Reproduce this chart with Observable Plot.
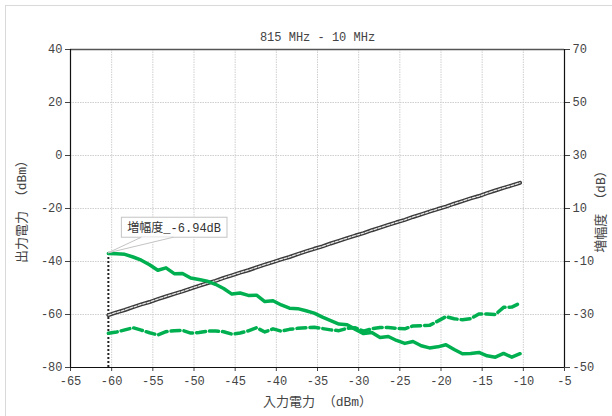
<!DOCTYPE html>
<html>
<head>
<meta charset="utf-8">
<script src="https://cdn.jsdelivr.net/npm/d3@7"></script>
<script src="https://cdn.jsdelivr.net/npm/@observablehq/plot@0.6"></script>
<style>
  html, body { margin: 0; padding: 0; background: #fff; }
  #wrap { position: relative; width: 612px; height: 416px; overflow: hidden; }
  #border { position: absolute; left: 5px; top: 5px; width: 640px; height: 440px; border-left: 1px solid #d9d9d9; border-top: 1px solid #d9d9d9; pointer-events: none; }
</style>
</head>
<body>
<div id="wrap"><div id="border"></div></div>
<script>
// ---- data ----
const titleText = "815 MHz - 10 MHz";
const xLabel = "入力電力 （dBm）";
const yLeftLabel = "出力電力 （dBm）";
const yRightLabel = "増幅度 （dB）";
const annotationText = "増幅度_-6.94dB";

const inputDbm = [-60.4,-59.4,-58.4,-57.4,-56.4,-55.4,-54.4,-53.4,-52.4,-51.4,
  -50.4,-49.4,-48.4,-47.4,-46.4,-45.4,-44.4,-43.4,-42.4,-41.4,
  -40.4,-39.4,-38.4,-37.4,-36.4,-35.4,-34.4,-33.4,-32.4,-31.4,
  -30.4,-29.4,-28.4,-27.4,-26.4,-25.4,-24.4,-23.4,-22.4,-21.4,
  -20.4,-19.4,-18.4,-17.4,-16.4,-15.4,-14.4,-13.4,-12.4,-11.4,-10.4];

// output power (left axis, dBm) - black line
const outputDbm = [-60.2,-59.2,-58.3,-57.2,-56.2,-55.3,-54.2,-53.2,-52.2,-51.3,
  -50.2,-49.2,-48.2,-47.3,-46.2,-45.2,-44.2,-43.3,-42.2,-41.2,
  -40.2,-39.2,-38.3,-37.2,-36.2,-35.2,-34.3,-33.2,-32.2,-31.2,
  -30.2,-29.3,-28.2,-27.2,-26.2,-25.2,-24.3,-23.2,-22.2,-21.2,
  -20.2,-19.3,-18.2,-17.2,-16.2,-15.3,-14.2,-13.2,-12.2,-11.3,-10.3];

// gain (right axis, dB) - solid green line
const gainDb = [-6.94,-7.1,-7.3,-8.3,-9.5,-11.2,-13.3,-12.4,-14.6,-14.5,
  -16.2,-16.8,-17.4,-18.6,-20.2,-22.3,-21.9,-22.8,-22.7,-25.1,
  -24.8,-26.4,-27.6,-27.8,-28.6,-29.5,-31.0,-32.3,-33.6,-33.9,
  -35.6,-37.2,-36.8,-38.7,-38.3,-39.8,-40.9,-40.2,-41.8,-42.6,
  -42.2,-41.4,-43.2,-44.8,-44.7,-44.3,-45.6,-46.1,-44.7,-46.1,-44.8];

// second series (right axis, dB) - dashed green line
const dashedDb = [-37.1,-36.6,-35.8,-35.0,-35.9,-36.9,-37.7,-36.5,-36.1,-36.0,
  -37.0,-36.8,-36.3,-36.2,-36.5,-37.4,-37.0,-36.2,-35.0,-36.6,
  -35.4,-36.3,-35.6,-35.2,-35.0,-34.8,-35.3,-35.8,-36.1,-35.2,
  -35.0,-36.3,-35.4,-34.9,-34.9,-35.2,-35.4,-34.3,-34.2,-34.1,
  -32.5,-30.8,-31.6,-32.0,-31.6,-29.8,-29.8,-30.0,-27.3,-27.2,-25.7];

const xTicks = [-65,-60,-55,-50,-45,-40,-35,-30,-25,-20,-15,-10,-5];
const xGrid = [-60,-55,-50,-45,-40,-35,-30,-25,-20,-15,-10];
const yTicks = [-80,-60,-40,-20,0,20,40];
const yGrid = [-60,-40,-20,0,20];
const rightOffset = 30; // right axis value = left axis value + 30

// ---- build table ----
const rows = inputDbm.map((x, i) => ({x, out: outputDbm[i], gain: gainDb[i], dash: dashedDb[i]}));
const first = rows[0];
const ann = [{x: first.x, y: first.gain - rightOffset, text: annotationText}];

const mono = "'Liberation Mono', 'DejaVu Sans Mono', 'Noto Sans CJK JP', monospace";
const cjk = "'Liberation Mono', 'Noto Sans CJK JP', sans-serif";
const green = "#00b050";

const chart = Plot.plot({
  width: 612,
  height: 416,
  marginLeft: 70,
  marginRight: 48,
  marginTop: 49,
  marginBottom: 49,
  style: {fontFamily: mono, fontSize: "12px", color: "#444", background: "transparent"},
  x: {domain: [-65, -5]},
  y: {domain: [-80, 40]},
  marks: [
    Plot.gridX(xGrid, {stroke: "#cfcfcf", strokeOpacity: 1, strokeDasharray: "1.5,1"}),
    Plot.gridY(yGrid, {stroke: "#cfcfcf", strokeOpacity: 1, strokeDasharray: "1.5,1"}),
    Plot.ruleY([40], {stroke: "#555", strokeWidth: 1.5}),
    Plot.axisX({ticks: xTicks, tickFormat: d => String(d), tickSize: 4, tickPadding: 5, label: null, fontSize: 12}),
    Plot.axisY({ticks: yTicks, tickFormat: d => String(d), tickSize: 5, tickPadding: 3, label: null, fontSize: 12}),
    Plot.axisY({anchor: "right", ticks: yTicks, tickFormat: d => String(d + rightOffset), tickSize: 5, tickPadding: 3, label: null, fontSize: 12}),
    Plot.ruleX([-65], {stroke: "#111", strokeWidth: 1.2}),
    Plot.ruleX([-5], {stroke: "#111", strokeWidth: 1.2}),
    Plot.ruleY([-80], {stroke: "#111", strokeWidth: 1.2}),
    // dotted marker line from the annotated point down to the axis
    Plot.ruleX(ann, {x: "x", y1: -80, y2: "y", stroke: "#222", strokeWidth: 2, strokeDasharray: "2,2"}),
    // output power (black double line)
    Plot.line(rows, {x: "x", y: "out", stroke: "#3a3a3a", strokeWidth: 4}),
    Plot.line(rows, {x: "x", y: "out", stroke: "#e8e8e8", strokeWidth: 1.3, strokeDasharray: "3,1.5"}),
    // dashed green series
    Plot.line(rows, {x: "x", y: d => d.dash - rightOffset, stroke: green, strokeWidth: 3.5, strokeDasharray: "9,4"}),
    // gain (solid green)
    Plot.line(rows, {x: "x", y: d => d.gain - rightOffset, stroke: green, strokeWidth: 3.5}),
    // annotation text
    Plot.text(ann, {x: "x", y: "y", text: "text", dx: 19, dy: -25, textAnchor: "start", fontFamily: cjk, fontSize: 12, fill: "#333", className: "ann"}),
    // titles
    Plot.text([titleText], {frameAnchor: "top", dy: -17, fontSize: 12, fill: "#444"}),
    Plot.text([xLabel], {frameAnchor: "bottom", dy: 38, fontFamily: cjk, fontSize: 13, fill: "#444"}),
    Plot.text([yLeftLabel], {frameAnchor: "left", dx: -49, rotate: -90, textAnchor: "middle", fontFamily: cjk, fontSize: 13, fill: "#444"}),
    Plot.text([yRightLabel], {frameAnchor: "right", dx: 36, rotate: -90, textAnchor: "middle", fontFamily: cjk, fontSize: 13, fill: "#444"})
  ]
});

chart.style.position = "absolute";
chart.style.left = "0px";
chart.style.top = "0px";
document.getElementById("wrap").appendChild(chart);

// annotation callout box drawn behind the text, anchored to the data point
(function () {
  const g = chart.querySelector("g.ann");
  if (!g) return;
  const t = g.querySelector("text");
  const r = t.getBoundingClientRect();
  const s = chart.getBoundingClientRect();
  const bb = {x: r.left - s.left, y: r.top - s.top, width: r.width, height: r.height};
  const px = chart.scale("x").apply(ann[0].x);
  const py = chart.scale("y").apply(ann[0].y);
  const ns = "http://www.w3.org/2000/svg";
  const box = {x: bb.x - 6, y: bb.y - 3, w: bb.width + 12, h: bb.height + 4};
  const grp = document.createElementNS(ns, "g");
  const rect = document.createElementNS(ns, "rect");
  rect.setAttribute("x", box.x); rect.setAttribute("y", box.y);
  rect.setAttribute("width", box.w); rect.setAttribute("height", box.h);
  rect.setAttribute("fill", "#fff"); rect.setAttribute("stroke", "#c4c4c4");
  const ptr = document.createElementNS(ns, "path");
  const b = box.y + box.h;
  ptr.setAttribute("d", `M${box.x + 20},${b} L${px},${py} L${box.x + 52},${b}`);
  ptr.setAttribute("fill", "#fff"); ptr.setAttribute("stroke", "#c4c4c4");
  grp.appendChild(rect); grp.appendChild(ptr);
  g.parentNode.insertBefore(grp, g);
})();
</script>
</body>
</html>
